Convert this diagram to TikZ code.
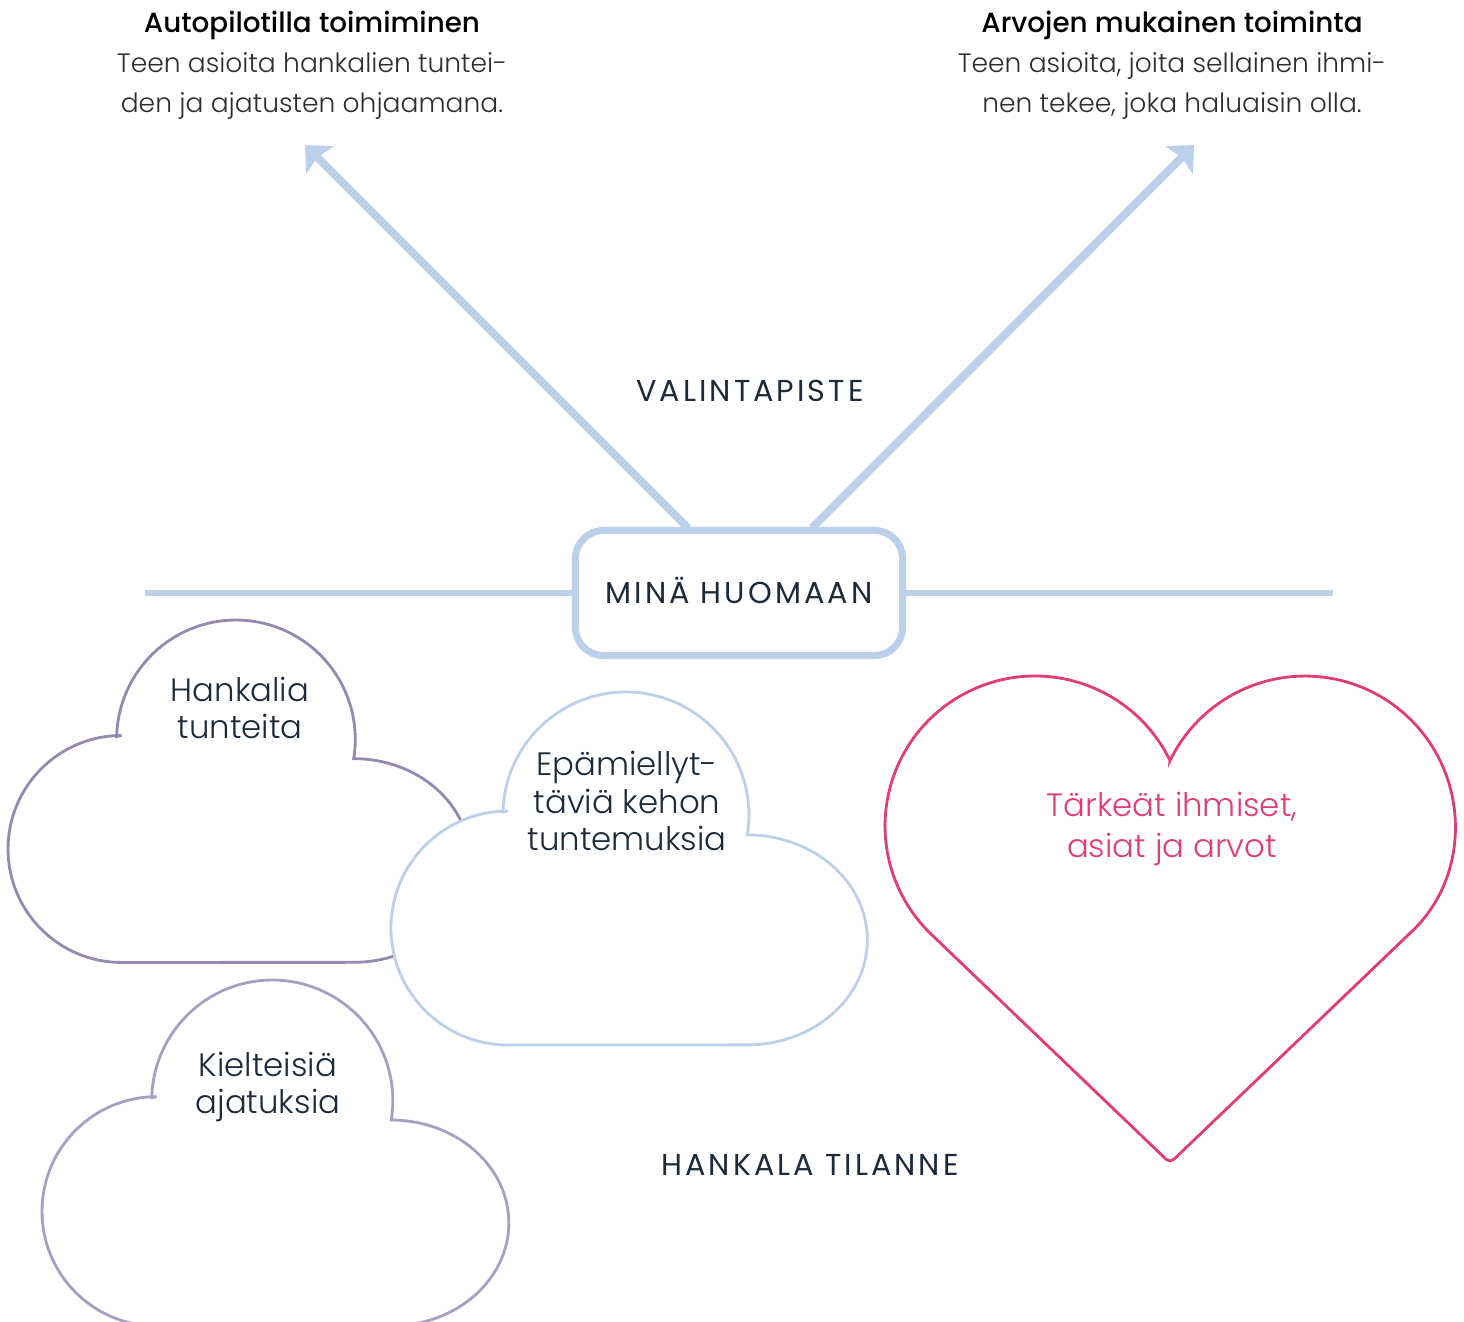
\documentclass[tikz,border=0pt]{standalone}
\usepackage{fontspec}
\setmainfont{Poppins}[UprightFont=* Light, BoldFont=* Medium]
\newfontfamily\sperrfont{Poppins}[LetterSpace=10]
\usetikzlibrary{arrows.meta}

\definecolor{hellblau}{HTML}{BCD0EA}
\definecolor{lila}{HTML}{9588B1}
\definecolor{lilahell}{HTML}{A99EC3}
\definecolor{herzrot}{HTML}{E03C78}
\definecolor{tinte}{HTML}{1C2A3A}
\definecolor{grau}{HTML}{2E2E2E}

\tikzset{
  pilvi/.pic={
    \path[pic actions] (111,119) arc[start angle=181.4,end angle=369.3,radius=123]
      arc[start angle=-90,end angle=90,x radius=120,y radius=105] -- (116,352)
      arc[start angle=90,end angle=270,radius=117] -- cycle;
  },
  pfeil/.style={hellblau,line width=2.3pt,-{Stealth[length=6pt,width=11pt,inset=1pt]}},
  kopf/.style={align=center,text=grau,font=\fontsize{7.55pt}{11.4pt}\selectfont},
  versal/.style={text=tinte,text height=6.1pt,text depth=0pt,font=\sperrfont\fontsize{8.6pt}{10pt}\selectfont},
  pilvitext/.style={align=center,text=tinte,font=\fontsize{9.2pt}{10.6pt}\selectfont}
}

\begin{document}
\begin{tikzpicture}[x=0.01cm,y=-0.01cm]
  \useasboundingbox (0,0) rectangle (1464,1321);
  \clip (0,0) rectangle (1464,1321);
  % Kopfzeilen
  \node[kopf] (autopilot) at (312,65) {{\bfseries\color{black}\fontsize{7.9pt}{11.4pt}\selectfont Autopilotilla toimiminen}\\Teen asioita hankalien tuntei-\\den ja ajatusten ohjaamana.};
  \node[kopf] (arvot) at (1172,65) {{\bfseries\color{black}\fontsize{7.9pt}{11.4pt}\selectfont Arvojen mukainen toiminta}\\Teen asioita, joita sellainen ihmi-\\nen tekee, joka haluaisin olla.};
  \node[versal] (valinta) at (750,391) {VALINTAPISTE};
  % Kasten mit Linie
  \node[versal,draw=hellblau,line width=2pt,rounded corners=8pt,minimum width=3.27cm,minimum height=1.25cm] (huomaan) at (739,593) {MINÄ HUOMAAN};
  \coordinate (linkslinie) at (145,593);
  \coordinate (rechtslinie) at (1333,593);
  \draw[hellblau,line width=1.7pt] (linkslinie) -- (huomaan.west);
  \draw[hellblau,line width=1.7pt] (huomaan.east) -- (rechtslinie);
  \coordinate (linksfuss) at (688,528);
  \coordinate (rechtsfuss) at (812,528);
  \coordinate (linksspitze) at (305,145);
  \coordinate (rechtsspitze) at (1194,145);
  \draw[pfeil] (linksfuss) -- (linksspitze);
  \draw[pfeil] (rechtsfuss) -- (rechtsspitze);
  % Wolken
  \pic[draw=lila,line width=0.8pt,fill=white,scale=0.97] at (9,621) {pilvi};
  \pic[draw=hellblau,line width=0.8pt,fill=white] at (392,693) {pilvi};
  \pic[draw=lilahell,line width=0.8pt,fill=white,scale=0.98] at (43,981) {pilvi};
  \node[pilvitext] (tunteet) at (240,708) {Hankalia\\tunteita};
  \node[pilvitext] (keho) at (627,801) {Epämiellyt-\\täviä kehon\\tuntemuksia};
  \node[pilvitext] (ajatukset) at (268,1087) {Kielteisiä\\ajatuksia};
  % Herz
  \coordinate (kerbe) at (1170,760.6);
  \coordinate (spitze) at (1170,1163);
  \draw[herzrot,line width=0.8pt] (kerbe) arc[start angle=334.15,end angle=133.8,radius=150]
    [rounded corners=1.5pt] -- (spitze) -- (1408.8,934.3) [sharp corners]
    arc[start angle=46.2,end angle=-154.15,radius=150] -- cycle;
  \node[pilvitext,text=herzrot,font=\fontsize{9.2pt}{11.4pt}\selectfont] (wichtig) at (1172,829) {Tärkeät ihmiset,\\asiat ja arvot};
  \node[versal] (tilanne) at (810,1165) {HANKALA TILANNE};
\end{tikzpicture}
\end{document}
